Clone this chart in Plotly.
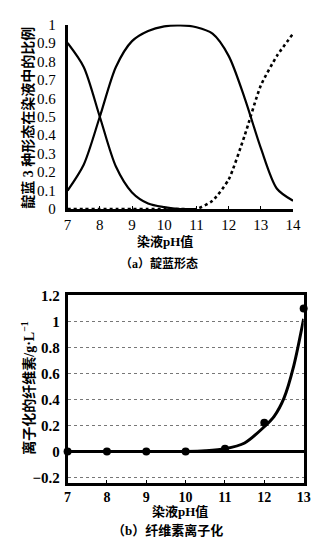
import plotly.graph_objects as go

W, H = 329, 553

# ---------- data: chart (a) ----------
ph_a = [7, 7.5, 8, 8.5, 9, 9.5, 10, 10.5, 11, 11.5, 12, 12.5, 13, 13.5, 14]
form_acid = [0.90, 0.77, 0.50, 0.23, 0.09, 0.03, 0.01, 0.0, 0.0, None, None, None, None, None, None]
form_mono = [0.10, 0.24, 0.50, 0.77, 0.91, 0.965, 0.99, 0.995, 0.985, 0.95, 0.83, 0.60, 0.33, 0.11, 0.045]
form_di = [0, 0, 0, 0, 0, 0, 0, 0, 0.0, 0.045, 0.16, 0.40, 0.67, 0.83, 0.95]
xticks_a = [7, 8, 9, 10, 11, 12, 13, 14]
yticks_a = [0, 0.1, 0.2, 0.3, 0.4, 0.5, 0.6, 0.7, 0.8, 0.9, 1]

# ---------- data: chart (b) ----------
ph_b_pts = [7, 8, 9, 10, 11, 12, 13]
cell_pts = [0.0, 0.0, 0.0, 0.0, 0.02, 0.22, 1.10]
ph_b_fit = [7, 8, 9, 10, 10.5, 11, 11.5, 12, 12.25, 12.5, 12.75, 13]
cell_fit = [0.0, 0.0, 0.0, 0.0, 0.005, 0.02, 0.065, 0.19, 0.27, 0.41, 0.66, 1.02]
xticks_b = [7, 8, 9, 10, 11, 12, 13]
yticks_b = [-0.2, 0, 0.2, 0.4, 0.6, 0.8, 1, 1.2]
yticktext_b = ["\u22120.2", "0", "0.2", "0.4", "0.6", "0.8", "1", "1.2"]


def px_x(p):
    return p / W


def px_y(p):
    return 1 - p / H


SERIF = "Liberation Serif, Times New Roman, Noto Sans CJK SC, serif"
CJK = "Liberation Serif, Noto Sans CJK SC, sans-serif"

fig = go.Figure()

# chart (a)
fig.add_trace(go.Scatter(x=ph_a, y=form_acid, mode="lines", xaxis="x", yaxis="y",
                         line=dict(color="black", width=2.2, shape="spline", smoothing=0.8),
                         connectgaps=False, cliponaxis=False, showlegend=False))
fig.add_trace(go.Scatter(x=ph_a, y=form_mono, mode="lines", xaxis="x", yaxis="y",
                         line=dict(color="black", width=2.2, shape="spline", smoothing=0.8),
                         cliponaxis=False, showlegend=False))
fig.add_trace(go.Scatter(x=ph_a, y=form_di, mode="lines", xaxis="x", yaxis="y",
                         line=dict(color="black", width=2.6, dash="dot", shape="spline", smoothing=0.6),
                         cliponaxis=False, showlegend=False))

# chart (b)
fig.add_trace(go.Scatter(x=ph_b_fit, y=cell_fit, mode="lines", xaxis="x2", yaxis="y2",
                         line=dict(color="black", width=3, shape="spline", smoothing=0.8),
                         cliponaxis=False, showlegend=False))
fig.add_trace(go.Scatter(x=ph_b_pts, y=cell_pts, mode="markers", xaxis="x2", yaxis="y2",
                         marker=dict(color="black", size=8),
                         cliponaxis=False, showlegend=False))

fig.update_layout(
    width=W, height=H,
    margin=dict(l=0, r=0, t=0, b=0),
    paper_bgcolor="white", plot_bgcolor="white",
    showlegend=False,
    xaxis=dict(domain=[px_x(66), px_x(300)], range=[7, 14], anchor="y",
               tickvals=xticks_a, ticks="inside", ticklen=3, tickcolor="black",
               showline=True, linecolor="black", linewidth=2.5, showgrid=False, zeroline=False,
               tickfont=dict(family=SERIF, size=15, color="black")),
    yaxis=dict(domain=[px_y(207), px_y(17)], range=[0, 1], anchor="x",
               tickvals=yticks_a, ticktext=[f"{v:g}" for v in yticks_a], ticks="",
               ticklabelstandoff=6,
               showline=True, linecolor="black", linewidth=2.5, showgrid=False, zeroline=False,
               tickfont=dict(family=SERIF, size=15, color="black")),
    xaxis2=dict(domain=[px_x(66), px_x(311)], range=[7, 13], anchor="y2",
                tickvals=xticks_b, ticks="inside", ticklen=3, tickcolor="black",
                showline=True, mirror=True, linecolor="black", linewidth=2.5,
                showgrid=False, zeroline=False,
                tickfont=dict(family=SERIF, size=14, color="black", weight="bold")),
    yaxis2=dict(domain=[px_y(489), px_y(296)], range=[-0.242, 1.2], anchor="x2",
                tickvals=yticks_b, ticktext=yticktext_b,
                ticks="", ticklabelstandoff=2,
                showline=True, mirror=True, linecolor="black", linewidth=2.5,
                showgrid=True, gridcolor="#777777", gridwidth=1, griddash="dot",
                zeroline=True, zerolinecolor="black", zerolinewidth=3,
                tickfont=dict(family=SERIF, size=15, color="black", weight="bold")),
)

ann = [
    dict(text="<b>靛蓝 3 种形态在染液中的比例</b>", x=px_x(25), y=px_y(113), textangle=-90,
         font=dict(family=CJK, size=14, color="black")),
    dict(text="<b>染液pH值</b>", x=px_x(167), y=px_y(240),
         font=dict(family=CJK, size=13, color="black")),
    dict(text="<b>（a）靛蓝形态</b>", x=px_x(161), y=px_y(263),
         font=dict(family=CJK, size=12, color="black")),
    dict(text="<b>离子化的纤维素/g·L<sup>−1</sup></b>", x=px_x(25), y=px_y(392), textangle=-90,
         font=dict(family=CJK, size=14, color="black")),
    dict(text="<b>染液pH值</b>", x=px_x(183), y=px_y(519),
         font=dict(family=CJK, size=13, color="black")),
    dict(text="<b>（b）纤维素离子化</b>", x=px_x(170), y=px_y(538),
         font=dict(family=CJK, size=13, color="black")),
]
for a in ann:
    a.update(xref="paper", yref="paper", showarrow=False, xanchor="center", yanchor="middle")
fig.update_layout(annotations=ann)

fig.write_html("out.html")
